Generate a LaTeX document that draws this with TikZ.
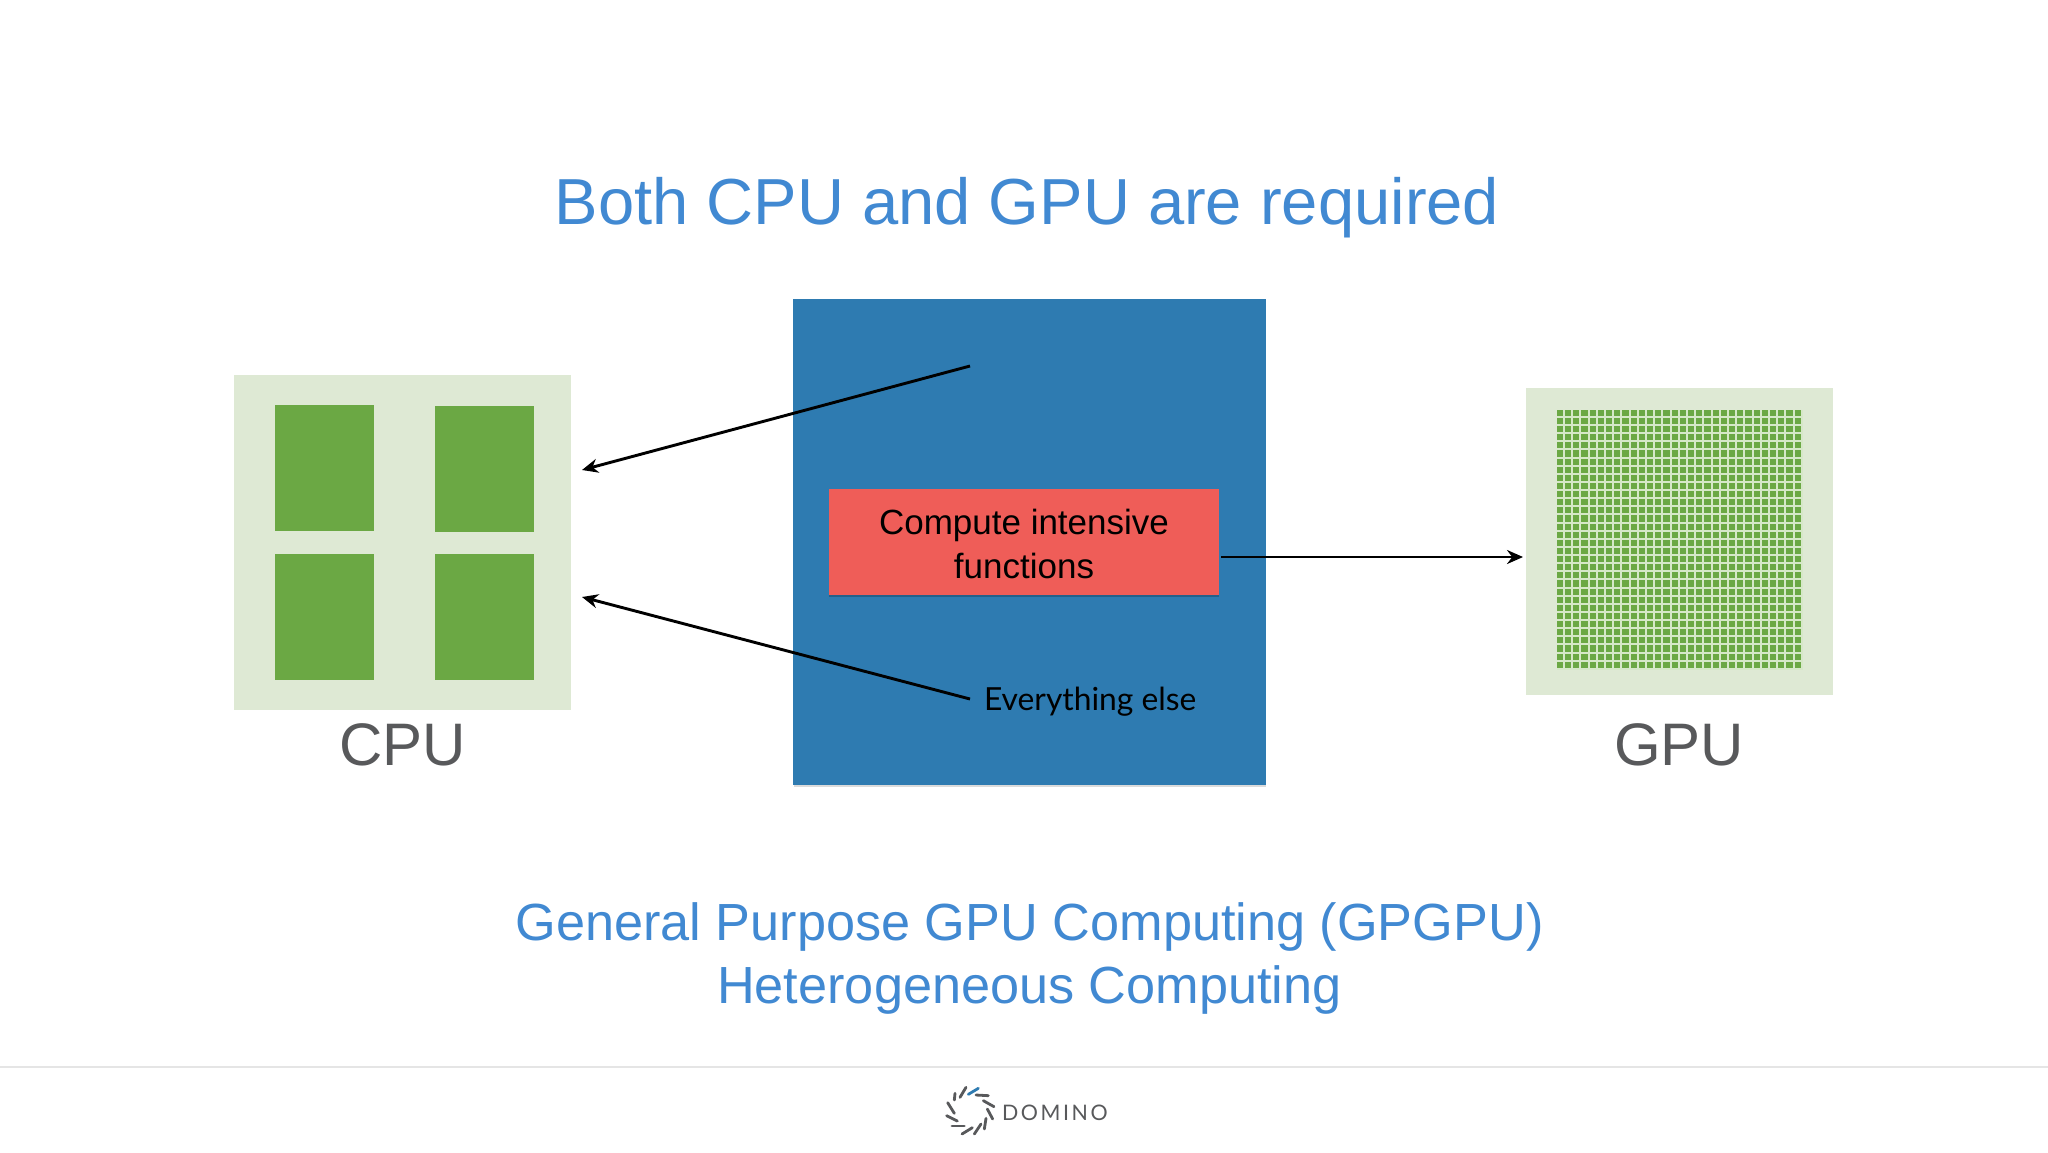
\documentclass[tikz,border=0pt]{standalone}
\usepackage{fontspec}
\setmainfont{Liberation Sans}
\newfontfamily\gill{Lato}
\usetikzlibrary{arrows.meta}
\definecolor{ttl}{HTML}{4189D2}
\definecolor{gry}{HTML}{58595B}
\definecolor{blu}{HTML}{2E7BB1}
\definecolor{redb}{HTML}{EF5D58}
\definecolor{pale}{HTML}{DEE9D4}
\definecolor{grn}{HTML}{6BA844}
\definecolor{gap}{HTML}{D6E8C8}
\tikzset{
  x=0.5pt,y=-0.5pt,
  box/.style={inner sep=0,outer sep=0},
  title/.style={text=ttl,font=\fontsize{32.55}{40}\selectfont,inner sep=0},
  sub/.style={text=ttl,font=\fontsize{26.13}{31.5}\selectfont,inner sep=0,align=center},
  chip/.style={text=gry,font=\fontsize{30}{36}\selectfont,inner sep=0},
  conn/.style={line width=1.45pt,-{Stealth[length=8pt,width=7pt]}},
  tick/.style={line width=1.4pt,color=#1,line cap=round}
}
\begin{document}
\begin{tikzpicture}
\useasboundingbox (0,0) rectangle (2048,1152);
\fill[white] (0,0) rectangle (2048,1152);
\node[title] (head) at (1027,207.5) {Both CPU and GPU are required};
% CPU
\fill[pale] (234,375) rectangle (571,709.5);
\fill[grn] (275,405) rectangle (374,531);
\fill[grn] (435,406) rectangle (533.5,532);
\fill[grn] (275,554) rectangle (374,680);
\fill[grn] (435,554) rectangle (533.5,680);
\node[chip] (cpu) at (402.5,745) {CPU};
% GPU
\fill[pale] (1525.5,388) rectangle (1832.5,694.5);
\fill[gap] (1556.5,409.5) rectangle (1802.5,669.5);
\foreach \i in {0,...,29}{
  \foreach \j in {0,...,31}{
    \fill[grn] ({1556.8+\i*8.2},{409.8+\j*8.125}) rectangle ++(6.2,6.1);
  }
}
\node[chip] (gpu) at (1679,745) {GPU};
% centre
\fill[black!14] (794,301) rectangle (1266,787);
\fill[blu] (793,299) rectangle (1266,785);
\fill[black!22!blu] (829,491) rectangle (1219,597);
\node[box,fill=redb,minimum width=195pt,minimum height=53pt] (red) at (1024,542) {};
\node[box,align=center,text=black,font=\fontsize{17.5}{21.6}\selectfont] (redtext) at (1024,544) {Compute intensive\\functions};
\node[box,text=black,font=\gill\fontsize{15.9}{20}\selectfont,anchor=west] (else) at (984,702) {Everything else};
% connectors
\coordinate (t1) at (970,366);
\coordinate (t2) at (582,470);
\coordinate (b1) at (970,699);
\coordinate (b2) at (582,597);
\coordinate (r1) at (1221,557);
\coordinate (r2) at (1523,557);
\draw[conn] (t1) -- (t2);
\draw[conn] (b1) -- (b2);
\draw[conn] (r1) -- (r2);
% subtitle
\node[sub] (subt) at (1029.5,958) {General Purpose GPU Computing (GPGPU)\\Heterogeneous Computing};
% footer
\draw[line width=0.6pt,color=black!10] (0,1067) -- (2048,1067);
\foreach \a/\b/\c/\d in {165/100/163/120,198/82/180/112,228/105/265/107,250/122/282/140,262/147/278/177,258/175/253/207,243/192/223/222,217/203/186/222,193/198/156/198,172/183/140/167,163/160/143/128}{
  \draw[tick=gry] ({900+\a/3},{1060+\b/3}) -- ({900+\c/3},{1060+\d/3});
}
\draw[tick=blu] ({900+235/3},{1060+85/3}) -- ({900+205/3},{1060+103/3});
\node[box,text=gry,font=\gill\fontsize{10.7}{14}\selectfont,anchor=west] (dom) at (1002,1113) {\addfontfeature{LetterSpace=12}DOMINO};
\end{tikzpicture}
\end{document}
